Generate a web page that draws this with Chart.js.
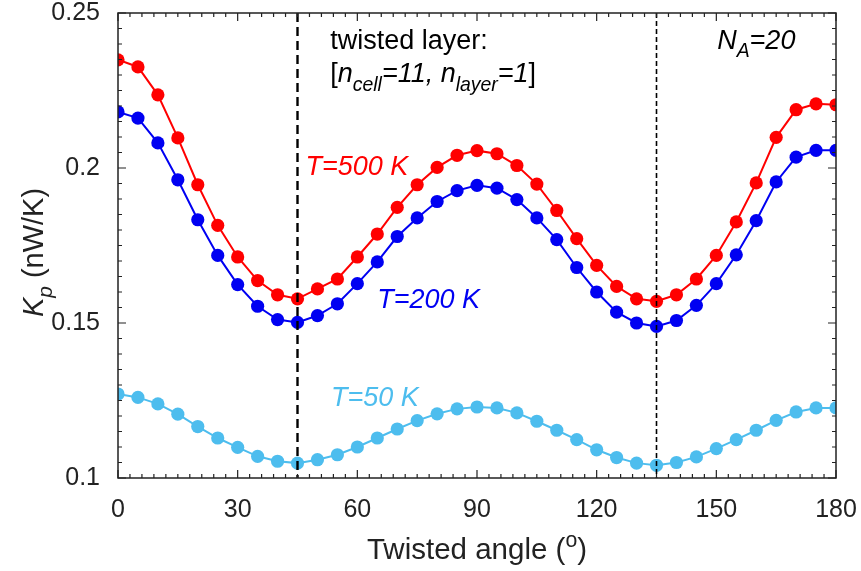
<!DOCTYPE html>
<html>
<head>
<meta charset="utf-8">
<script src="https://cdn.jsdelivr.net/npm/chart.js@4/dist/chart.umd.min.js"></script>
<style>
  html, body { margin: 0; padding: 0; background: #fff; }
  #wrap { width: 861px; height: 571px; }
</style>
</head>
<body>
<div id="wrap"><canvas id="c" width="861" height="571"></canvas></div>
<script>
// twist angles (degrees)
const angles = [0, 5, 10, 15, 20, 25, 30, 35, 40, 45, 50, 55, 60, 65, 70, 75, 80, 85, 90,
  95, 100, 105, 110, 115, 120, 125, 130, 135, 140, 145, 150, 155, 160, 165, 170, 175, 180];

// Kp in nW/K at each temperature
const kp500 = [0.2349, 0.2326, 0.2236, 0.2097, 0.1946, 0.1815, 0.1713, 0.1637, 0.1591, 0.1578,
  0.1610, 0.1642, 0.1713, 0.1787, 0.1873, 0.1946, 0.2002, 0.2041, 0.2056,
  0.2046, 0.2008, 0.1948, 0.1863, 0.1772, 0.1686, 0.1618, 0.1578, 0.1570,
  0.1591, 0.1642, 0.1718, 0.1826, 0.1952, 0.2099, 0.2188, 0.2207, 0.2204];
const kp200 = [0.2181, 0.2161, 0.2081, 0.1962, 0.1833, 0.1718, 0.1624, 0.1554, 0.1511, 0.1502,
  0.1524, 0.1562, 0.1627, 0.1697, 0.1779, 0.1839, 0.1892, 0.1927, 0.1944,
  0.1935, 0.1898, 0.1839, 0.1769, 0.1679, 0.1600, 0.1535, 0.1500, 0.1489,
  0.1508, 0.1557, 0.1627, 0.1720, 0.1830, 0.1955, 0.2035, 0.2057, 0.2057];
const kp50 = [0.1271, 0.1260, 0.1239, 0.1206, 0.1166, 0.1129, 0.1099, 0.1070, 0.1054, 0.1048,
  0.1059, 0.1075, 0.1100, 0.1129, 0.1158, 0.1185, 0.1207, 0.1223, 0.1229,
  0.1226, 0.1210, 0.1183, 0.1154, 0.1124, 0.1091, 0.1066, 0.1048, 0.1041,
  0.1050, 0.1068, 0.1095, 0.1124, 0.1154, 0.1186, 0.1213, 0.1226, 0.1226];

// tick labels
const xTicks = [0, 30, 60, 90, 120, 150, 180];
const yTicks = [0.1, 0.15, 0.2, 0.25];
const yTickLabels = ['0.1', '0.15', '0.2', '0.25'];
const dashedAngles = [45, 135];

const FONT = '"Liberation Sans", Arial, Helvetica, sans-serif';
const INK = '#222';
const RED = '#ff0000', BLUE = '#0000f2', SKY = '#4dbdee';

function series(vals, color) {
  return {
    data: angles.map((a, i) => ({ x: a, y: vals[i] })),
    borderColor: color,
    backgroundColor: color,
    borderWidth: 2,
    pointRadius: 6.6,
    pointHoverRadius: 6.6,
    pointBorderWidth: 0,
    tension: 0
  };
}

// text made of pieces that can be italic, subscript or superscript
function measureRuns(ctx, runs, size) {
  let w = 0;
  for (const r of runs) {
    const s = r.sub || r.sup ? size * 0.72 : size;
    ctx.font = (r.i ? 'italic ' : '') + s + 'px ' + FONT;
    w += ctx.measureText(r.t).width;
  }
  return w;
}
function drawRuns(ctx, x, y, runs, size, color) {
  ctx.fillStyle = color;
  ctx.textBaseline = 'alphabetic';
  ctx.textAlign = 'left';
  for (const r of runs) {
    const s = r.sub || r.sup ? size * 0.72 : size;
    ctx.font = (r.i ? 'italic ' : '') + s + 'px ' + FONT;
    const dy = r.sub ? size * 0.32 : (r.sup ? -size * 0.42 : 0);
    ctx.fillText(r.t, x, y + dy);
    x += ctx.measureText(r.t).width;
  }
}

const framePlugin = {
  id: 'frame',
  afterDatasetsDraw(chart) {
    const { ctx, chartArea: a, scales: { x, y } } = chart;
    ctx.save();

    // vertical reference lines
    dashedAngles.forEach((ang, k) => {
      const px = x.getPixelForValue(ang);
      ctx.beginPath();
      ctx.strokeStyle = '#000';
      ctx.lineWidth = k === 0 ? 2.4 : 1.6;
      ctx.setLineDash(k === 0 ? [9, 5] : [5, 3]);
      ctx.moveTo(px, a.top);
      ctx.lineTo(px, a.bottom);
      ctx.stroke();
    });
    ctx.setLineDash([]);

    // box
    ctx.strokeStyle = INK;
    ctx.lineWidth = 1.5;
    ctx.strokeRect(a.left, a.top, a.right - a.left, a.bottom - a.top);

    // inward ticks on all four sides
    ctx.lineWidth = 1.2;
    ctx.beginPath();
    for (let v = 0; v <= 180; v += 3) {
      const px = x.getPixelForValue(v);
      const len = v % 30 === 0 ? 8 : 4;
      ctx.moveTo(px, a.bottom); ctx.lineTo(px, a.bottom - len);
      ctx.moveTo(px, a.top); ctx.lineTo(px, a.top + len);
    }
    for (let k = 0; k <= 30; k++) {
      const v = 0.1 + k * 0.005;
      const py = y.getPixelForValue(v);
      const len = k % 10 === 0 ? 8 : 4;
      ctx.moveTo(a.left, py); ctx.lineTo(a.left + len, py);
      ctx.moveTo(a.right, py); ctx.lineTo(a.right - len, py);
    }
    ctx.stroke();

    // annotations anchored in data coordinates
    const at = (ax, ay) => [x.getPixelForValue(ax), y.getPixelForValue(ay)];
    let p = at(53.2, 0.2385);
    drawRuns(ctx, p[0], p[1], [{ t: 'twisted layer:' }], 27, '#000');
    p = at(53.2, 0.2276);
    drawRuns(ctx, p[0], p[1], [
      { t: '[' }, { t: 'n', i: true }, { t: 'cell', i: true, sub: true },
      { t: '=11, ', i: true }, { t: 'n', i: true }, { t: 'layer', i: true, sub: true },
      { t: '=1', i: true }, { t: ']' }
    ], 27, '#000');
    p = at(150.2, 0.2385);
    drawRuns(ctx, p[0], p[1], [
      { t: 'N', i: true }, { t: 'A', i: true, sub: true }, { t: '=20', i: true }
    ], 27, '#000');
    p = at(47.0, 0.1978);
    drawRuns(ctx, p[0], p[1], [{ t: 'T=500 K', i: true }], 27, RED);
    p = at(65.0, 0.1549);
    drawRuns(ctx, p[0], p[1], [{ t: 'T=200 K', i: true }], 27, BLUE);
    p = at(53.4, 0.1233);
    drawRuns(ctx, p[0], p[1], [{ t: 'T=50 K', i: true }], 27, SKY);

    // axis titles
    const xr = [{ t: 'Twisted angle (' }, { t: 'o', sup: true }, { t: ')' }];
    const wx = measureRuns(ctx, xr, 29.5);
    drawRuns(ctx, (a.left + a.right) / 2 - wx / 2, 559, xr, 29.5, INK);

    const yr = [{ t: 'K', i: true }, { t: 'p', i: true, sub: true }, { t: ' (nW/K)' }];
    const wy = measureRuns(ctx, yr, 29);
    ctx.translate(43, (a.top + a.bottom) / 2 + 7);
    ctx.rotate(-Math.PI / 2);
    drawRuns(ctx, -wy / 2, 0, yr, 29, INK);

    ctx.restore();
  }
};

new Chart(document.getElementById('c'), {
  type: 'line',
  data: {
    datasets: [series(kp500, RED), series(kp200, BLUE), series(kp50, SKY)]
  },
  options: {
    responsive: false,
    animation: false,
    devicePixelRatio: 1,
    layout: { padding: { top: 13, right: 25, left: 0, bottom: 0 } },
    plugins: { legend: { display: false }, tooltip: { enabled: false } },
    scales: {
      x: {
        type: 'linear',
        min: 0, max: 180,
        grid: { display: false },
        border: { display: false },
        afterFit(s) { s.height = 93; s.paddingLeft = 0; s.paddingRight = 0; },
        afterBuildTicks(s) { s.ticks = xTicks.map(v => ({ value: v })); },
        ticks: { color: INK, padding: 9, maxRotation: 0, font: { family: FONT, size: 25 } }
      },
      y: {
        min: 0.1, max: 0.25,
        grid: { display: false },
        border: { display: false },
        afterFit(s) { s.width = 118; s.paddingTop = 0; s.paddingBottom = 0; },
        afterBuildTicks(s) { s.ticks = yTicks.map(v => ({ value: v })); },
        ticks: {
          color: INK, padding: 10, font: { family: FONT, size: 25 },
          callback: (v, i) => yTickLabels[i]
        }
      }
    }
  },
  plugins: [framePlugin]
});
</script>
</body>
</html>
